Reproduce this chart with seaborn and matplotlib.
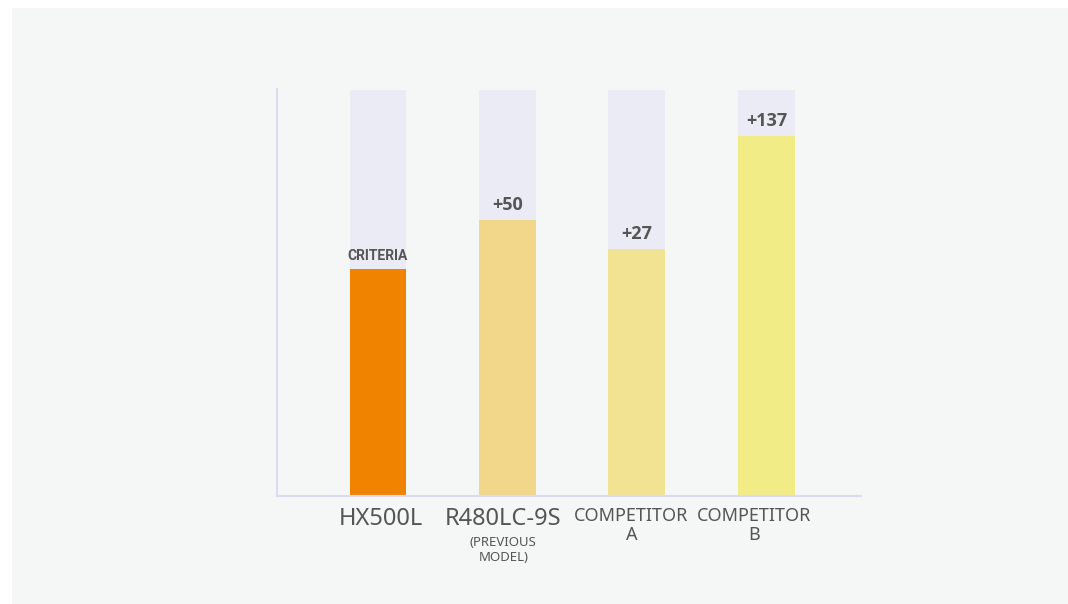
import matplotlib
matplotlib.use("Agg")
import matplotlib.pyplot as plt
import seaborn as sns
import pandas as pd
from matplotlib.patches import Rectangle

categories = ["HX500L", "R480LC-9S", "COMPETITOR A", "COMPETITOR B"]
values = [227, 276, 247, 360]
background = [406, 406, 406, 406]
bar_labels = ["CRITERIA", "+50", "+27", "+137"]
main_labels = ["HX500L", "R480LC-9S", "COMPETITOR\nA", "COMPETITOR\nB"]
sub_labels = ["", "(PREVIOUS\nMODEL)", "", ""]
colors = ["#f08300", "#f2d78a", "#f2e393", "#f2ec87"]

sns.set_theme(style="white")
plt.rcParams["font.family"] = ["Noto Sans", "DejaVu Sans"]

df = pd.DataFrame({"cat": categories, "val": values, "bg": background})

W, H = 1068, 604
fig = plt.figure(figsize=(W / 100, H / 100), dpi=100, facecolor="white")
fig.patches.append(Rectangle((12 / W, 0), 1 - 12 / W, 1 - 6 / H - 2 / H,
                             transform=fig.transFigure, facecolor="#f5f7f6",
                             edgecolor="none", zorder=-10))

ax = fig.add_axes([277 / W, (H - 496) / H, (861 - 277) / W, (496 - 89) / H])
ax.set_facecolor("none")

sns.barplot(data=df, x="cat", y="bg", color="#ebebf5", width=0.44,
            saturation=1, linewidth=0, ax=ax, zorder=1)
sns.barplot(data=df, x="cat", y="val", hue="cat", palette=colors, width=0.44,
            saturation=1, linewidth=0, legend=False, ax=ax, zorder=2)

ax.set_xlim(-0.78, 3.73)
ax.set_ylim(0, 407)
ax.set_xlabel("")
ax.set_ylabel("")
ax.set_xticks([])
ax.set_yticks([])

for s in ["top", "right"]:
    ax.spines[s].set_visible(False)
for s in ["left", "bottom"]:
    ax.spines[s].set_color("#dcdcef")
    ax.spines[s].set_linewidth(1.6)
    ax.spines[s].set_zorder(3)

txt = "#555555"
for i, (v, lab) in enumerate(zip(values, bar_labels)):
    if lab == "CRITERIA":
        ax.annotate(lab, (i, v), xytext=(0, 4), textcoords="offset points",
                    ha="center", va="bottom", fontsize=10, color=txt,
                    fontweight="bold", family=["Roboto", "DejaVu Sans"])
    else:
        ax.annotate(lab, (i, v), xytext=(0, 4), textcoords="offset points",
                    ha="center", va="bottom", fontsize=13, color=txt,
                    fontweight="bold", family=["Open Sans", "DejaVu Sans"])

main_dx = [2, -3, -4, -9]
for i, (m, sub) in enumerate(zip(main_labels, sub_labels)):
    if "\n" in m:
        ax.annotate(m, (i, 0), xycoords=("data", "axes fraction"),
                    xytext=(main_dx[i], -8), textcoords="offset points",
                    ha="center", va="top", fontsize=13, color=txt,
                    linespacing=1.05)
    else:
        ax.annotate(m, (i, 0), xycoords=("data", "axes fraction"),
                    xytext=(main_dx[i], -8), textcoords="offset points",
                    ha="center", va="top", fontsize=17, color=txt)
    if sub:
        ax.annotate(sub, (i, 0), xycoords=("data", "axes fraction"),
                    xytext=(main_dx[i], -29), textcoords="offset points",
                    ha="center", va="top", fontsize=9.5, color=txt,
                    linespacing=1.15)

fig.savefig("out.png", dpi=100, facecolor="white")
